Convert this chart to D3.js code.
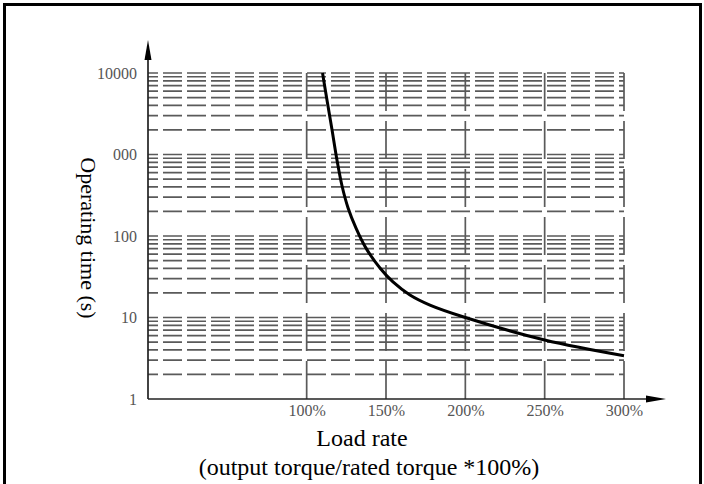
<!DOCTYPE html>
<html lang="en">
<head>
  <meta charset="UTF-8">
  <title>Operating time vs load rate</title>
  <script src="https://cdnjs.cloudflare.com/ajax/libs/d3/7.8.5/d3.min.js"></script>
  <style>
    body { margin: 0; background: white; }
    svg { display: block; }
    text { font-family: "Liberation Serif", "DejaVu Serif", serif; }
  </style>
</head>
<body>
  <script>
    // overload curve
    var loadRate = [110, 112.8, 116, 119.1, 122.3, 126.1, 131.1, 137.4, 146.2, 154.4, 165.1, 177.7, 200, 250, 300];
    var opTime = [10000, 4660, 2000, 857, 411, 221, 125, 71, 40.5, 27.3, 18.9, 14.2, 10, 5.3, 3.4];

    var xTicks = [100, 150, 200, 250, 300];
    var xTickLabels = ["100%", "150%", "200%", "250%", "300%"];
    var yTicks = [1, 10, 100, 1000, 10000];
    var yTickLabels = ["1", "10", "100", "1000", "10000"];

    var w = 704, h = 484;

    var svg = d3.select("body").append("svg")
      .attr("width", w)
      .attr("height", h);

    // frame
    svg.append("rect")
      .attr("x", 4.5).attr("y", 4.5)
      .attr("width", 696).attr("height", 500)
      .attr("fill", "none")
      .attr("stroke", "#000")
      .attr("stroke-width", 3);

    var x = d3.scaleLinear().domain([0, 300]).range([148, 624]);
    var y = d3.scaleLog().domain([1, 10000]).range([399, 73]);

    // horizontal grid: 1..9 per decade
    var gridY = [];
    yTicks.forEach(function(t) {
      if (t === 10000) { gridY.push(t); return; }
      d3.range(1, 10).forEach(function(k) { if (t * k > 1) gridY.push(t * k); });
    });

    svg.append("g").selectAll("line")
      .data(gridY)
      .enter().append("line")
      .attr("x1", x(0)).attr("x2", x(300))
      .attr("y1", function(d) { return y(d); })
      .attr("y2", function(d) { return y(d); })
      .attr("stroke", "#5a5a5a")
      .attr("stroke-width", 1.7)
      .attr("stroke-dasharray", "19 5")
      .attr("stroke-dashoffset", 9);

    // vertical grid
    svg.append("g").selectAll("line")
      .data(xTicks)
      .enter().append("line")
      .attr("x1", function(d) { return x(d); })
      .attr("x2", function(d) { return x(d); })
      .attr("y1", y(10000)).attr("y2", y(1))
      .attr("stroke", "#5a5a5a")
      .attr("stroke-width", 1.7)
      .attr("stroke-dasharray", "38 10");

    // axes with arrows
    svg.append("line")
      .attr("x1", x(0)).attr("x2", x(0))
      .attr("y1", y(1)).attr("y2", 52)
      .attr("stroke", "#222").attr("stroke-width", 1.7);
    svg.append("path")
      .attr("d", "M" + x(0) + ",40 L" + (x(0) - 3.5) + ",60 L" + (x(0) + 3.5) + ",60 Z")
      .attr("fill", "#000");

    svg.append("line")
      .attr("x1", x(0)).attr("x2", 655)
      .attr("y1", y(1)).attr("y2", y(1))
      .attr("stroke", "#222").attr("stroke-width", 1.7);
    svg.append("path")
      .attr("d", "M666," + y(1) + " L646," + (y(1) - 3.5) + " L646," + (y(1) + 3.5) + " Z")
      .attr("fill", "#000");

    // tick labels
    var xAxis = d3.axisBottom(x)
      .tickValues(xTicks)
      .tickSize(0)
      .tickPadding(6)
      .tickFormat(function(d, i) { return xTickLabels[i]; });
    var gx = svg.append("g")
      .attr("transform", "translate(0," + y(1) + ")")
      .call(xAxis);
    gx.select(".domain").remove();
    gx.selectAll("text")
      .attr("font-family", "Liberation Serif, serif")
      .attr("font-size", 16)
      .attr("fill", "#555");

    var yAxis = d3.axisLeft(y)
      .tickValues(yTicks)
      .tickSize(0)
      .tickPadding(11)
      .tickFormat(function(d, i) { return yTickLabels[i]; });
    var gy = svg.append("g")
      .attr("transform", "translate(" + x(0) + ",0)")
      .call(yAxis);
    gy.select(".domain").remove();
    gy.selectAll("text")
      .attr("font-family", "Liberation Serif, serif")
      .attr("font-size", 16)
      .attr("fill", "#555");

    // curve
    var line = d3.line()
      .x(function(d, i) { return x(d); })
      .y(function(d, i) { return y(opTime[i]); })
      .curve(d3.curveCatmullRom.alpha(0.5));

    svg.append("path")
      .datum(loadRate)
      .attr("d", line)
      .attr("fill", "none")
      .attr("stroke", "#000")
      .attr("stroke-width", 3);

    // y title (its white box hides part of the 1000 label)
    svg.append("rect")
      .attr("x", 68).attr("y", 146)
      .attr("width", 45).attr("height", 180)
      .attr("fill", "white");
    svg.append("text")
      .attr("transform", "translate(81,238) rotate(90)")
      .attr("text-anchor", "middle")
      .attr("font-size", 22)
      .attr("fill", "#000")
      .text("Operating time (s)");

    // x titles
    svg.append("text")
      .attr("x", 362).attr("y", 446)
      .attr("text-anchor", "middle")
      .attr("font-size", 24)
      .text("Load rate");
    svg.append("text")
      .attr("x", 369).attr("y", 475)
      .attr("text-anchor", "middle")
      .attr("font-size", 24)
      .text("(output torque/rated torque *100%)");
  </script>
</body>
</html>
